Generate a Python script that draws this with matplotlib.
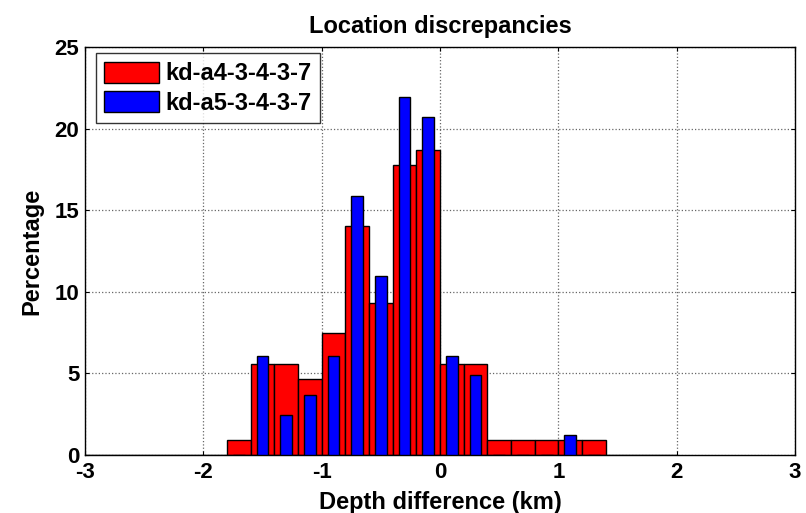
import numpy as np
import matplotlib
matplotlib.use("Agg")
import matplotlib.pyplot as plt

plt.rcParams['font.family'] = ['Liberation Sans', 'DejaVu Sans']
plt.rcParams['font.weight'] = 'bold'
plt.rcParams['axes.unicode_minus'] = False

# ------------------ data ------------------
bin_centers = [-1.7, -1.5, -1.3, -1.1, -0.9, -0.7, -0.5, -0.3, -0.1,
               0.1, 0.3, 0.5, 0.7, 0.9, 1.1, 1.3]
pct_a4 = [0.93, 5.61, 5.61, 4.67, 7.48, 14.02, 9.35, 17.76, 18.69,
          5.61, 5.61, 0.93, 0.93, 0.93, 0.93, 0.93]
pct_a5 = [0.0, 6.10, 2.44, 3.66, 6.10, 15.85, 10.98, 21.95, 20.73,
          6.10, 4.88, 0.0, 0.0, 0.0, 1.22, 0.0]
# empty bins either side (drawn as a flat line on the axis)
empty_centers = [-2.9, -2.7, -2.5, -2.3, -2.1, -1.9, 1.5, 1.7, 1.9]
empty_vals = [0.0] * len(empty_centers)

labels = ["kd-a4-3-4-3-7", "kd-a5-3-4-3-7"]
xticks = [-3, -2, -1, 0, 1, 2, 3]
yticks = [0, 5, 10, 15, 20, 25]

# ------------------ plot ------------------
fig = plt.figure(figsize=(8.06, 5.13), dpi=100)
ax = fig.add_axes([0.1055, 0.113, 0.881, 0.795])

ax.bar(empty_centers, empty_vals, width=0.2, color='red', edgecolor='black', lw=1.0)
ax.bar(bin_centers, pct_a4, width=0.2, color='red', edgecolor='black', lw=1.0,
       label=labels[0], zorder=2)
ax.bar(bin_centers, pct_a5, width=0.1, color='blue', edgecolor='black', lw=1.0,
       label=labels[1], zorder=3)

ax.set_xlim(-3, 3)
ax.set_ylim(0, 25)
ax.set_xticks(xticks)
ax.set_yticks(yticks)
ax.tick_params(direction='in', top=True, right=True, length=3, labelsize=16)
ax.tick_params(axis='x', pad=5)
ax.tick_params(axis='y', pad=4)
for lbl in ax.get_xticklabels() + ax.get_yticklabels():
    lbl.set_fontweight('bold')

ax.grid(True, linestyle=':', color='#666666', lw=0.9)
ax.set_axisbelow(True)
for s in ax.spines.values():
    s.set_linewidth(1.0)

ax.set_title("Location discrepancies", fontsize=17, fontweight='bold', pad=10)
ax.set_xlabel("Depth difference (km)", fontsize=17, fontweight='bold', labelpad=6)
ax.set_ylabel("Percentage", fontsize=17, fontweight='bold', labelpad=8)

leg = ax.legend(loc='upper left', bbox_to_anchor=(0.0155, 0.985), borderaxespad=0,
                fontsize=17, frameon=True, fancybox=False, edgecolor='black',
                handlelength=2.3, handleheight=1.0, borderpad=0.35,
                labelspacing=0.25, handletextpad=0.3)
leg.get_frame().set_linewidth(1.0)
for t in leg.get_texts():
    t.set_fontweight('bold')

fig.savefig("out.png", dpi=100)
